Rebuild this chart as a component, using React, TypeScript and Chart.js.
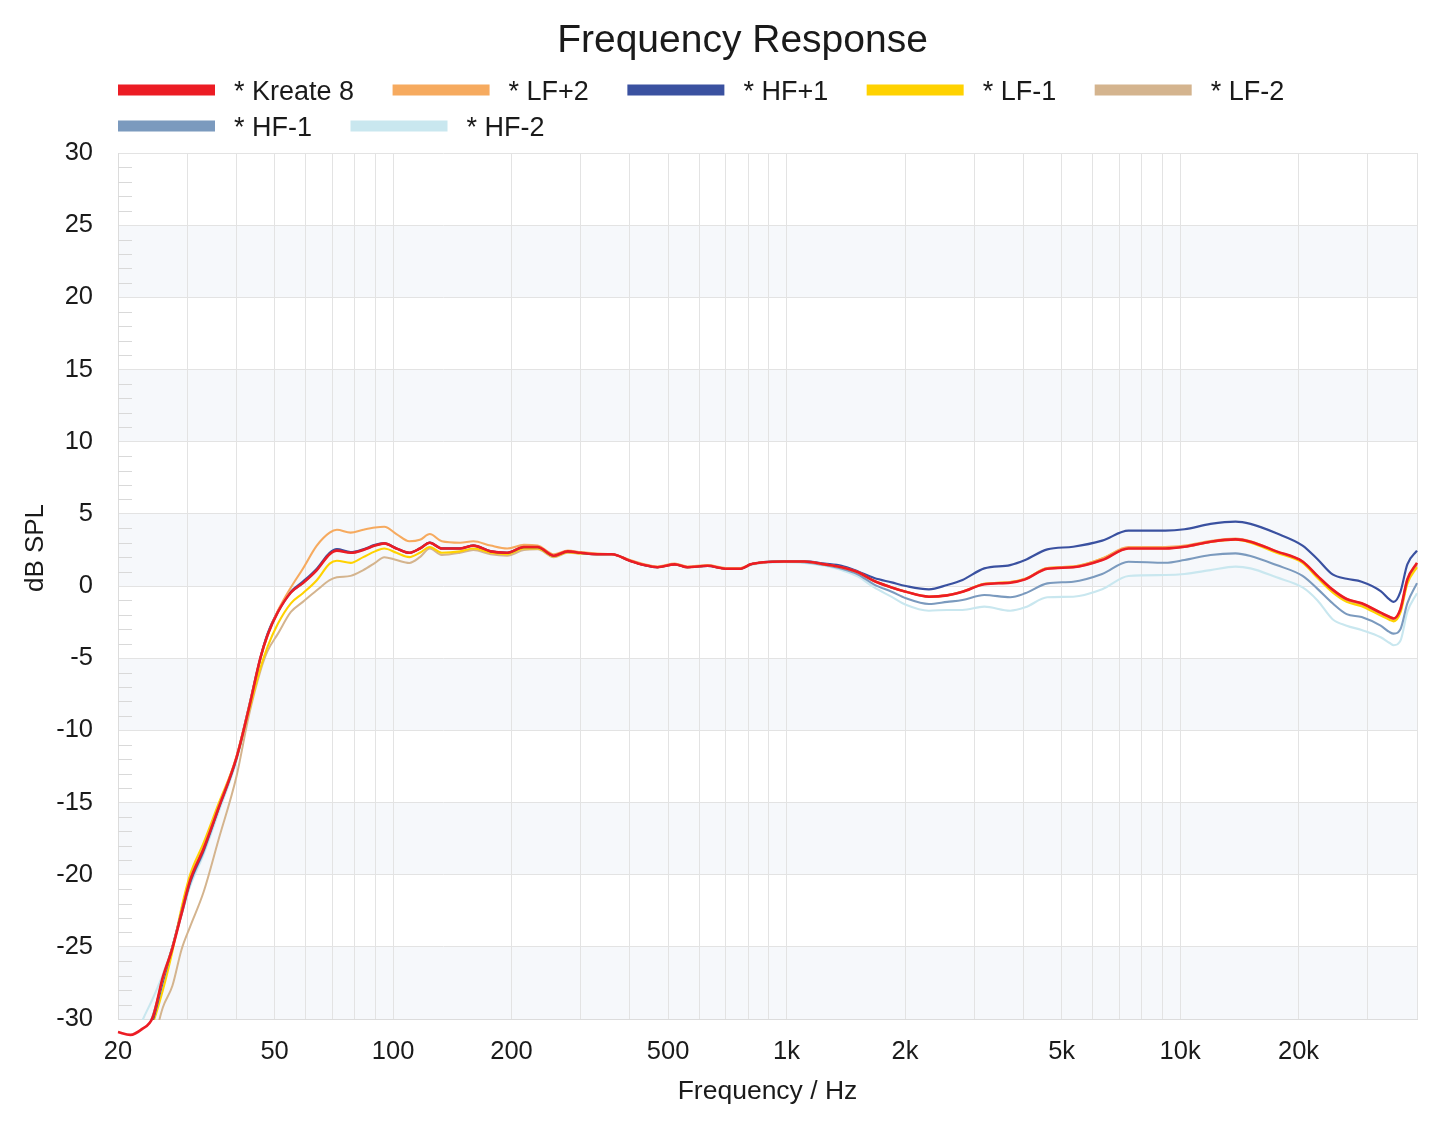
import React, { useEffect, useRef } from "react";
import { Chart, registerables } from "chart.js";

Chart.register(...registerables);

const FONT = '"Liberation Sans", Arial, Helvetica, sans-serif';
const TEXT_COLOR = "#1a1a1a";

// Frequency points (Hz)
const FREQ_HZ = [
  20, 21.5, 23, 24.5, 26, 27.5, 29, 30.5, 33, 36,
  40, 43, 46, 48, 51, 55, 59, 64, 69, 72,
  78, 84, 90, 95, 102, 110, 117, 124, 133, 148,
  160, 177, 195, 215, 233, 256, 278, 300, 330, 360,
  400, 435, 470, 520, 560, 630, 700, 765, 810, 875,
  985, 1110, 1250, 1380, 1520, 1670, 1850, 2010, 2300, 2560,
  2800, 3180, 3700, 4040, 4600, 5350, 6340, 7390, 9170, 10260,
  11950, 13830, 15100, 17580, 20480, 22350, 24410, 26500, 28930, 32340,
  34100, 34900, 36300, 37800, 40000,
];

// dB SPL values per series
const KREATE_8 = [
  -30.9, -31.1, -30.7, -29.9, -27.1, -25.1, -22.7, -20.4, -18.2, -15.4,
  -11.9, -8.5, -5.0, -3.4, -1.8, -0.45, 0.2, 1.1, 2.2, 2.45,
  2.3, 2.5, 2.8, 2.95, 2.6, 2.3, 2.6, 3.0, 2.6, 2.6,
  2.8, 2.4, 2.3, 2.7, 2.7, 2.1, 2.4, 2.3, 2.2, 2.2,
  1.75, 1.45, 1.3, 1.5, 1.3, 1.4, 1.2, 1.2, 1.5, 1.65,
  1.7, 1.7, 1.5, 1.3, 0.95, 0.35, -0.1, -0.4, -0.74, -0.65,
  -0.4, 0.12, 0.23, 0.46, 1.2, 1.3, 1.8, 2.6, 2.6, 2.72,
  3.07, 3.23, 3.07, 2.4, 1.7, 0.7, -0.25, -0.9, -1.2, -1.85,
  -2.15, -2.25, -1.6, 0.45, 1.6,
];

const LF_PLUS_2 = [
  -33.5, -33, -31.5, -29.9, -27.2, -25.0, -22.6, -20.3, -18.1, -15.3,
  -11.8, -8.4, -5.0, -3.4, -1.7, -0.1, 1.2, 2.8, 3.7, 3.9,
  3.7, 3.9, 4.05, 4.1, 3.6, 3.1, 3.2, 3.6, 3.1, 3.0,
  3.1, 2.8, 2.6, 2.85, 2.8, 2.2, 2.45, 2.35, 2.25, 2.2,
  1.8, 1.5, 1.35, 1.55, 1.35, 1.45, 1.25, 1.25, 1.5, 1.65,
  1.7, 1.7, 1.5, 1.3, 0.95, 0.35, -0.1, -0.4, -0.72, -0.62,
  -0.38, 0.15, 0.27, 0.5, 1.25, 1.35, 1.9, 2.7, 2.7, 2.8,
  3.12, 3.28, 3.1, 2.4, 1.7, 0.7, -0.25, -0.9, -1.2, -1.85,
  -2.15, -2.25, -1.6, 0.45, 1.6,
];

const HF_PLUS_1 = [
  -33.5, -33, -31.8, -30.1, -27.4, -25.0, -22.6, -20.5, -18.3, -15.4,
  -11.9, -8.4, -5.0, -3.3, -1.75, -0.4, 0.3, 1.2, 2.3, 2.55,
  2.35, 2.55, 2.85, 2.95, 2.6, 2.3, 2.6, 3.0, 2.6, 2.6,
  2.8, 2.4, 2.3, 2.7, 2.7, 2.1, 2.4, 2.3, 2.2, 2.2,
  1.75, 1.45, 1.3, 1.5, 1.3, 1.4, 1.2, 1.2, 1.5, 1.65,
  1.7, 1.7, 1.55, 1.4, 1.0, 0.55, 0.25, 0.0, -0.23, 0.07,
  0.42, 1.22, 1.45, 1.8, 2.54, 2.72, 3.14, 3.83, 3.83, 3.93,
  4.3, 4.46, 4.3, 3.65, 2.8, 1.85, 0.8, 0.5, 0.3, -0.35,
  -0.95, -1.1, -0.4, 1.5, 2.45,
];

const LF_MINUS_1 = [
  -33.5, -33, -31.5, -30.3, -28.0, -25.3, -22.3, -20.0, -17.8, -15.1,
  -11.9, -8.7, -5.7, -4.2, -2.6, -1.2, -0.5, 0.4, 1.55, 1.75,
  1.6, 2.0, 2.4, 2.6, 2.3, 2.0, 2.3, 2.7, 2.3, 2.4,
  2.6, 2.3, 2.2, 2.6, 2.6, 2.05, 2.35, 2.25, 2.2, 2.2,
  1.75, 1.45, 1.3, 1.5, 1.3, 1.4, 1.2, 1.2, 1.5, 1.65,
  1.7, 1.7, 1.5, 1.3, 0.95, 0.35, -0.1, -0.4, -0.74, -0.65,
  -0.4, 0.15, 0.27, 0.5, 1.25, 1.35, 1.9, 2.65, 2.65, 2.75,
  3.05, 3.2, 3.0, 2.3, 1.6, 0.55, -0.45, -1.1, -1.4, -2.05,
  -2.35, -2.45, -1.85, 0.15, 1.3,
];

const LF_MINUS_2 = [
  -36, -35, -33.5, -31.8, -29.2, -27.7, -25.2, -23.6, -21.2, -17.6,
  -13.2, -9.0, -5.9, -4.5, -3.3, -1.8, -1.1, -0.3, 0.4, 0.6,
  0.7, 1.1, 1.6, 2.0, 1.8, 1.6, 2.0, 2.6, 2.15, 2.3,
  2.5, 2.2, 2.1, 2.5, 2.55, 2.0, 2.3, 2.25, 2.2, 2.2,
  1.75, 1.45, 1.3, 1.5, 1.3, 1.4, 1.2, 1.2, 1.5, 1.65,
  1.7, 1.7, 1.5, 1.3, 0.95, 0.35, -0.1, -0.4, -0.74, -0.64,
  -0.4, 0.12, 0.23, 0.46, 1.2, 1.3, 1.8, 2.6, 2.6, 2.7,
  3.05, 3.2, 3.05, 2.35, 1.65, 0.62, -0.35, -1.0, -1.3, -1.95,
  -2.25, -2.35, -1.75, 0.3, 1.45,
];

const HF_MINUS_1 = [
  -33.5, -33, -31.5, -29.8, -27.3, -25.0, -22.8, -20.6, -18.4, -15.5,
  -12.0, -8.5, -5.0, -3.35, -1.8, -0.45, 0.2, 1.1, 2.25, 2.5,
  2.3, 2.5, 2.8, 2.95, 2.6, 2.3, 2.6, 3.0, 2.6, 2.6,
  2.8, 2.4, 2.3, 2.7, 2.7, 2.1, 2.4, 2.3, 2.2, 2.2,
  1.75, 1.45, 1.3, 1.5, 1.3, 1.4, 1.2, 1.2, 1.5, 1.65,
  1.7, 1.65, 1.45, 1.2, 0.8, 0.1, -0.4, -0.85, -1.25, -1.1,
  -0.97, -0.62, -0.78, -0.51, 0.18, 0.3, 0.83, 1.68, 1.61, 1.8,
  2.15, 2.26, 2.08, 1.45, 0.7, -0.2, -1.2, -1.95, -2.15, -2.75,
  -3.2, -3.3, -3.0, -1.2, 0.2,
];

const HF_MINUS_2 = [
  -33.5, -32.5, -30.2, -28.6, -26.9, -25.0, -22.8, -20.8, -18.6, -15.7,
  -12.1, -8.6, -5.1, -3.4, -1.8, -0.45, 0.2, 1.1, 2.2, 2.45,
  2.3, 2.5, 2.8, 2.95, 2.6, 2.3, 2.6, 3.0, 2.6, 2.6,
  2.8, 2.4, 2.3, 2.7, 2.7, 2.1, 2.4, 2.3, 2.2, 2.2,
  1.75, 1.45, 1.3, 1.5, 1.3, 1.4, 1.2, 1.2, 1.45, 1.6,
  1.65, 1.6, 1.4, 1.1, 0.65, -0.1, -0.75, -1.3, -1.71, -1.66,
  -1.66, -1.43, -1.71, -1.48, -0.78, -0.74, -0.23, 0.69, 0.76, 0.83,
  1.1, 1.34, 1.22, 0.6, -0.1, -1.0, -2.3, -2.75, -3.05, -3.55,
  -3.95, -4.1, -3.8, -1.8, -0.5,
];

const SERIES_LABELS = ["* Kreate 8", "* LF+2", "* HF+1", "* LF-1", "* LF-2", "* HF-1", "* HF-2"];
const SERIES_VALUES = [KREATE_8, LF_PLUS_2, HF_PLUS_1, LF_MINUS_1, LF_MINUS_2, HF_MINUS_1, HF_MINUS_2];
const SERIES_COLORS = ["#EC1C24", "#F6AA5F", "#3A51A0", "#FFD200", "#D4B48E", "#7B9ABE", "#C9E7EF"];
const SERIES_WIDTHS = [2.6, 2.1, 2.2, 2.1, 2.0, 2.1, 2.1];

const X_GRID_TICKS = [
  20, 30, 40, 50, 60, 70, 80, 90,
  100, 200, 300, 400, 500, 600, 700, 800, 900,
  1000, 2000, 3000, 4000, 5000, 6000, 7000, 8000, 9000,
  10000, 20000, 30000, 40000,
];
const X_LABEL_VALUES = [20, 50, 100, 200, 500, 1000, 2000, 5000, 10000, 20000];
const X_LABEL_TEXTS = ["20", "50", "100", "200", "500", "1k", "2k", "5k", "10k", "20k"];

const X_MIN = 20;
const X_MAX = 40000;
const Y_MIN = -30;
const Y_MAX = 30;
const Y_STEP = 5;

const TITLE = "Frequency Response";
const X_TITLE = "Frequency / Hz";
const Y_TITLE = "dB SPL";

const decorPlugin = {
  id: "decor",
  beforeDraw(chart: any) {
    const { ctx, chartArea, scales } = chart;
    const { left, right } = chartArea;
    const y = scales.y;
    ctx.save();
    ctx.fillStyle = "#f6f8fb";
    for (let v = Y_MIN; v < Y_MAX; v += 2 * Y_STEP) {
      const yTop = y.getPixelForValue(v + Y_STEP);
      const yBot = y.getPixelForValue(v);
      ctx.fillRect(left, yTop, right - left, yBot - yTop);
    }
    ctx.restore();
  },
  beforeDatasetsDraw(chart: any) {
    const { ctx, chartArea, scales } = chart;
    const y = scales.y;
    ctx.save();
    ctx.strokeStyle = "#d9d9d9";
    ctx.lineWidth = 1;
    ctx.beginPath();
    for (let v = Y_MIN + 1; v < Y_MAX; v++) {
      if (v % Y_STEP === 0) continue;
      const py = Math.round(y.getPixelForValue(v)) + 0.5;
      ctx.moveTo(chartArea.left, py);
      ctx.lineTo(chartArea.left + 14, py);
    }
    ctx.stroke();
    ctx.restore();
  },
  afterDraw(chart: any) {
    const { ctx, chartArea } = chart;
    ctx.save();
    // Title
    ctx.fillStyle = TEXT_COLOR;
    ctx.font = `39px ${FONT}`;
    ctx.textAlign = "center";
    ctx.textBaseline = "alphabetic";
    ctx.fillText(TITLE, chart.width / 2 + 25, 44);

    // Legend
    ctx.font = `27px ${FONT}`;
    ctx.textAlign = "left";
    const rowY = [82, 118];
    let x = chartArea.left;
    let row = 0;
    chart.data.datasets.forEach((ds: any) => {
      const tw = ctx.measureText(ds.label).width;
      const w = 116 + tw;
      if (x > chartArea.left && x + w > chartArea.right) {
        row += 1;
        x = chartArea.left;
      }
      const cy = rowY[row] ?? rowY[rowY.length - 1] + 36 * (row - 1);
      ctx.fillStyle = ds.borderColor;
      ctx.fillRect(x, cy - 5.5, 97, 11);
      ctx.fillStyle = TEXT_COLOR;
      ctx.fillText(ds.label, x + 116, cy + 9.5);
      x += w + 38.5;
    });

    // Y axis title
    ctx.font = `26px ${FONT}`;
    ctx.translate(35, 540);
    ctx.rotate(-Math.PI / 2);
    ctx.textAlign = "center";
    ctx.textBaseline = "alphabetic";
    ctx.fillText(Y_TITLE, 0, 0);
    ctx.restore();
  },
};

export default function App() {
  const canvasRef = useRef<HTMLCanvasElement | null>(null);

  useEffect(() => {
    if (!canvasRef.current) return;
    const datasets = SERIES_LABELS.map((label, i) => ({
      label,
      data: FREQ_HZ.map((f, j) => ({ x: f, y: SERIES_VALUES[i][j] })),
      borderColor: SERIES_COLORS[i],
      backgroundColor: SERIES_COLORS[i],
      borderWidth: SERIES_WIDTHS[i],
      pointRadius: 0,
      pointHoverRadius: 0,
      fill: false,
      cubicInterpolationMode: "monotone" as const,
      clip: i === 0 ? { left: 2, top: 2, right: 2, bottom: 40 } : 1,
    }));

    const chart = new Chart(canvasRef.current, {
      type: "line",
      data: { datasets },
      plugins: [decorPlugin],
      options: {
        animation: false,
        responsive: true,
        maintainAspectRatio: false,
        parsing: true,
        layout: { padding: { top: 145, right: 10, bottom: 0, left: 0 } },
        plugins: {
          legend: { display: false },
          title: { display: false },
          tooltip: { enabled: false },
        },
        scales: {
          x: {
            type: "logarithmic",
            min: X_MIN,
            max: X_MAX,
            afterBuildTicks: (scale: any) => {
              scale.ticks = X_GRID_TICKS.map((v) => ({ value: v }));
            },
            afterFit: (scale: any) => {
              scale.height = 98;
              scale.paddingRight = 0;
              scale.paddingLeft = 0;
            },
            grid: { color: "#e3e3e3", lineWidth: 1, drawTicks: false },
            border: { display: true, color: "#dcdcdc" },
            ticks: {
              autoSkip: false,
              maxRotation: 0,
              minRotation: 0,
              padding: 18,
              color: TEXT_COLOR,
              font: { family: FONT, size: 25.5 },
              callback: (value: any) => {
                const idx = X_LABEL_VALUES.indexOf(Number(value));
                return idx >= 0 ? X_LABEL_TEXTS[idx] : "";
              },
            },
            title: {
              display: true,
              text: X_TITLE,
              color: TEXT_COLOR,
              font: { family: FONT, size: 26.5 },
              padding: { top: 0, bottom: 9 },
            },
          },
          y: {
            type: "linear",
            min: Y_MIN,
            max: Y_MAX,
            afterFit: (scale: any) => {
              scale.width = 110;
            },
            grid: { color: "#e3e3e3", lineWidth: 1, drawTicks: false },
            border: { display: true, color: "#dcdcdc" },
            ticks: {
              stepSize: Y_STEP,
              padding: 25,
              color: TEXT_COLOR,
              font: { family: FONT, size: 25.5 },
            },
          },
        },
      },
    });
    return () => chart.destroy();
  }, []);

  return (
    <div style={{ position: "relative", width: "100%", height: "1109px" }}>
      <canvas ref={canvasRef} />
    </div>
  );
}
